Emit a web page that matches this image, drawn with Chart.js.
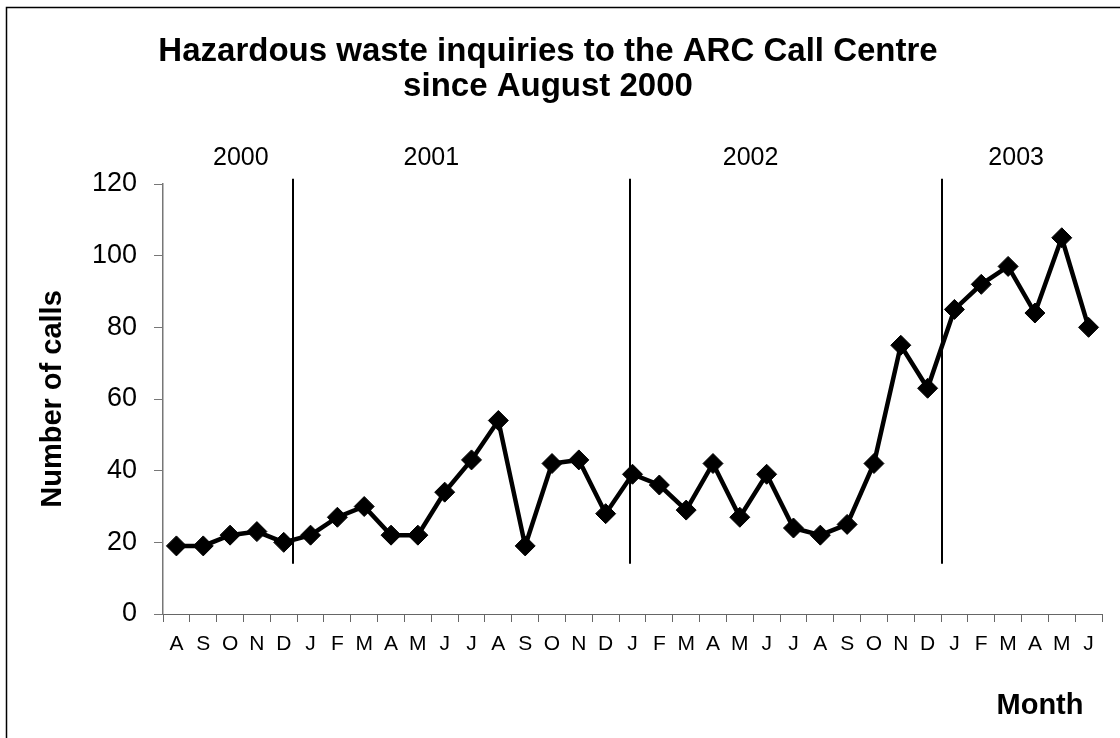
<!DOCTYPE html>
<html>
<head>
<meta charset="utf-8">
<script src="https://cdn.jsdelivr.net/npm/chart.js@4.4.1/dist/chart.umd.min.js"></script>
<style>
  html, body { margin: 0; padding: 0; background: #fff; }
  #wrap { width: 1120px; height: 738px; }
</style>
</head>
<body>
<div id="wrap"><canvas id="callsChart" width="1120" height="738"></canvas></div>
<script>

/* DATA */

const months = [
  "A","S","O","N","D",
  "J","F","M","A","M","J","J","A","S","O","N","D",
  "J","F","M","A","M","J","J","A","S","O","N","D",
  "J","F","M","A","M","J"
];

const calls = [
  19, 19, 22, 23, 20,
  22, 27, 30, 22, 22, 34, 43, 54, 19, 42, 43, 28,
  39, 36, 29, 42, 27, 39, 24, 22, 25, 42, 75, 63,
  85, 92, 97, 84, 105, 80
];

const yTicks = [0, 20, 40, 60, 80, 100, 120];

const years = ["2000", "2001", "2002", "2003"];
// where the year labels sit, in category index units
const yearLabelAt = [2.4, 9.5, 21.4, 31.3];
// hand drawn year separators, in category index units
const yearBreaks = [4.36, 16.92, 28.55];

const titleLines = ["Hazardous waste inquiries to the ARC Call Centre", "since August 2000"];

const FONT = "'Liberation Sans', Arial, sans-serif";


/* EXTRA DRAWING: title, years, separators, border */

const extras = {
  id: "extras",

  beforeDatasetsDraw(chart) {
    const ctx = chart.ctx;
    const x = chart.scales.x;
    const y = chart.scales.y;

    ctx.save();
    ctx.strokeStyle = "#000";
    ctx.lineWidth = 2;
    yearBreaks.forEach(b => {
      const px = Math.round(x.getPixelForValue(b));
      ctx.beginPath();
      ctx.moveTo(px, y.getPixelForValue(121.5));
      ctx.lineTo(px, y.getPixelForValue(14));
      ctx.stroke();
    });
    ctx.restore();
  },

  afterDraw(chart) {
    const ctx = chart.ctx;
    const x = chart.scales.x;

    ctx.save();

    // outer frame (only left and top fall inside the picture)
    ctx.strokeStyle = "#000";
    ctx.lineWidth = 1.5;
    ctx.strokeRect(6.5, 7.5, 1130, 750);

    ctx.fillStyle = "#000";
    ctx.textAlign = "center";
    ctx.textBaseline = "middle";

    ctx.font = "bold 33px " + FONT;
    ctx.fillText(titleLines[0], 548, 52);
    ctx.fillText(titleLines[1], 548, 87);

    ctx.font = "25px " + FONT;
    years.forEach((yr, i) => {
      ctx.fillText(yr, x.getPixelForValue(yearLabelAt[i]), 158);
    });

    ctx.font = "bold 29px " + FONT;
    ctx.fillText("Month", 1040, 706);

    ctx.restore();
  }
};


/* CHART */

new Chart(document.getElementById("callsChart"), {

  type: "line",

  data: {
    labels: months,
    datasets: [{
      data: calls,
      borderColor: "#000",
      borderWidth: 4.5,
      tension: 0,
      pointStyle: "rectRot",
      pointRadius: 10,
      pointBorderWidth: 1,
      pointBackgroundColor: "#000",
      pointBorderColor: "#000"
    }]
  },

  options: {
    responsive: false,
    animation: false,
    devicePixelRatio: 1,
    layout: {
      padding: { left: 0, top: 184, right: 18, bottom: 0 }
    },
    plugins: {
      legend: { display: false },
      tooltip: { enabled: false }
    },
    scales: {
      x: {
        offset: true,
        grid: {
          offset: true,
          drawOnChartArea: false,
          drawTicks: true,
          tickLength: 8,
          color: "#666"
        },
        border: { display: true, color: "#666", width: 1 },
        ticks: {
          autoSkip: false,
          maxRotation: 0,
          color: "#000",
          padding: 10,
          font: { family: FONT, size: 21 }
        },
        afterFit(scale) { scale.height = 124; }
      },
      y: {
        min: 0,
        max: 120,
        afterBuildTicks(scale) {
          scale.ticks = yTicks.map(v => ({ value: v }));
        },
        grid: {
          drawOnChartArea: false,
          drawTicks: true,
          tickLength: 9,
          color: "#777"
        },
        border: { display: true, color: "#777", width: 1.5 },
        ticks: {
          color: "#000",
          padding: 17,
          font: { family: FONT, size: 27 }
        },
        title: {
          display: true,
          text: "Number of calls",
          color: "#000",
          padding: { top: 36, bottom: 0 },
          font: { family: FONT, size: 29, weight: "bold" }
        },
        afterFit(scale) { scale.width = 163; }
      }
    }
  },

  plugins: [extras]

});

</script>
</body>
</html>
